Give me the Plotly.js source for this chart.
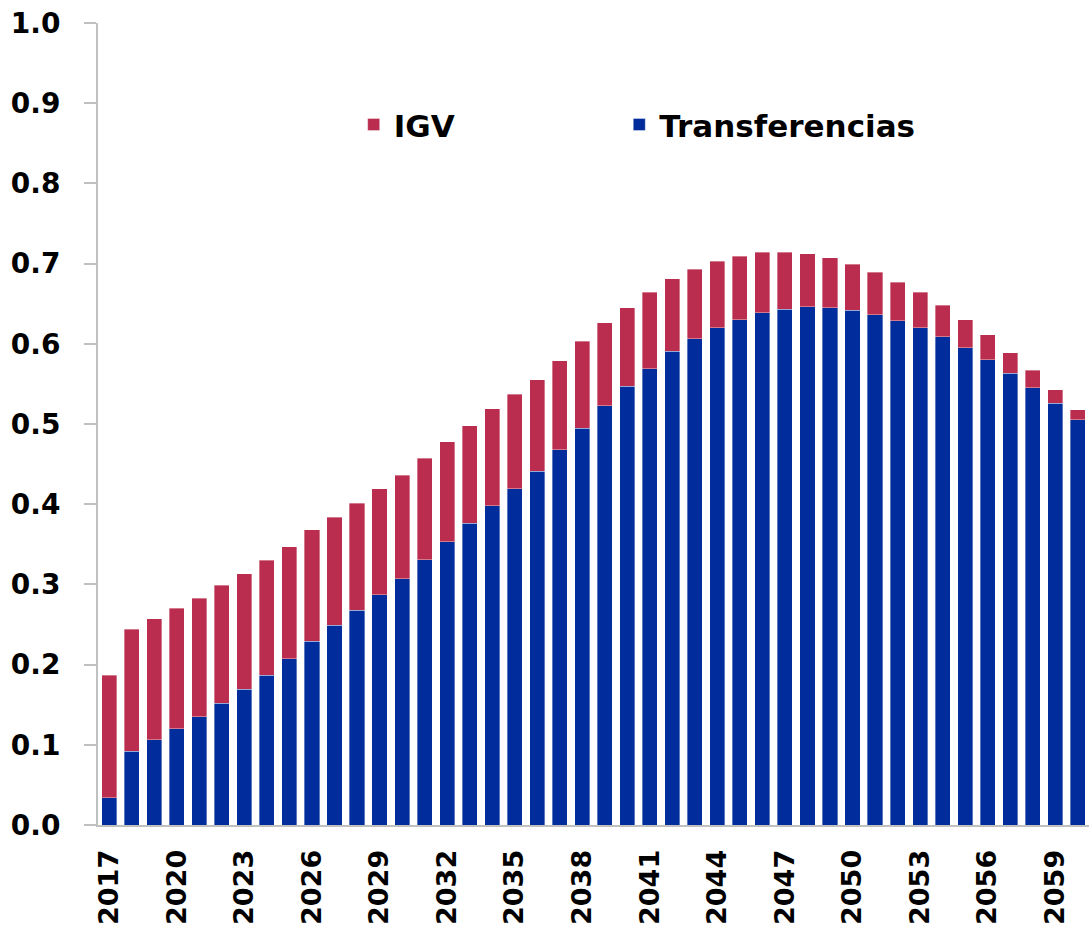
<!DOCTYPE html>
<html>
<head>
<meta charset="utf-8">
<script src="https://cdn.plot.ly/plotly-3.0.1.min.js"></script>
<style>html,body{margin:0;padding:0;background:#fff;}#chart{width:1089px;height:936px;}</style>
</head>
<body>
<div id="chart"></div>
<script>
const years = ["2017","2018","2019","2020","2021","2022","2023","2024","2025","2026","2027","2028","2029","2030","2031","2032","2033","2034","2035","2036","2037","2038","2039","2040","2041","2042","2043","2044","2045","2046","2047","2048","2049","2050","2051","2052","2053","2054","2055","2056","2057","2058","2059","2060"];
const transferencias = [0.034,0.092,0.106,0.120,0.135,0.152,0.169,0.187,0.207,0.229,0.249,0.268,0.287,0.307,0.331,0.353,0.376,0.398,0.419,0.441,0.468,0.495,0.523,0.547,0.569,0.591,0.606,0.620,0.630,0.639,0.643,0.646,0.645,0.642,0.636,0.629,0.620,0.609,0.595,0.580,0.563,0.545,0.526,0.505];
const igv = [0.153,0.152,0.151,0.150,0.148,0.147,0.144,0.143,0.140,0.139,0.135,0.133,0.132,0.129,0.126,0.125,0.122,0.121,0.118,0.114,0.111,0.108,0.103,0.098,0.095,0.090,0.087,0.083,0.079,0.075,0.071,0.066,0.062,0.057,0.053,0.048,0.044,0.039,0.035,0.031,0.026,0.022,0.017,0.013];
const xTickLabels = ["2017","2020","2023","2026","2029","2032","2035","2038","2041","2044","2047","2050","2053","2056","2059"];
const yTicks = [0,0.1,0.2,0.3,0.4,0.5,0.6,0.7,0.8,0.9,1.0];

const FONT = "DejaVu Sans, sans-serif";
const legendFont = {size:31, family:FONT, weight:"bold", color:"#000"};
const data = [
  {type:"bar", name:"Transferencias", x:years, y:transferencias, legend:"legend2",
   marker:{color:"#002D9B", line:{color:"rgba(255,255,255,0.6)", width:0.6}}},
  {type:"bar", name:"IGV", x:years, y:igv, legend:"legend",
   marker:{color:"#BB2D4E", line:{color:"rgba(255,255,255,0.6)", width:0.6}}}
];
const layout = {
  width:1089, height:936,
  margin:{l:98, r:0, t:23, b:111},
  barmode:"stack", bargap:0.33,
  paper_bgcolor:"#fff", plot_bgcolor:"#fff",
  font:{family:FONT, color:"#000"},
  showlegend:true,
  legend:{orientation:"h", x:0.258, y:0.873, xanchor:"left", yanchor:"middle",
          font:legendFont, bgcolor:"rgba(0,0,0,0)"},
  legend2:{orientation:"h", x:0.526, y:0.873, xanchor:"left", yanchor:"middle",
          font:legendFont, bgcolor:"rgba(0,0,0,0)"},
  xaxis:{type:"category", tickmode:"array", tickvals:xTickLabels, ticktext:xTickLabels,
         tickangle:-90, ticks:"", showline:true, linecolor:"#c0c0c0", linewidth:2,
         showgrid:false, zeroline:false, ticklabelstandoff:12,
         tickfont:{size:27, family:FONT, weight:"bold", color:"#000"}},
  yaxis:{range:[0,1], tickmode:"array", tickvals:yTicks, tickformat:".1f",
         ticks:"outside", ticklen:12, tickcolor:"#c0c0c0", tickwidth:2,
         showline:true, linecolor:"#c0c0c0", linewidth:2,
         showgrid:false, zeroline:false, ticklabelstandoff:18,
         tickfont:{size:28, family:FONT, weight:"bold", color:"#000"}}
};
Plotly.newPlot("chart", data, layout, {displayModeBar:false, staticPlot:true});
</script>
</body>
</html>
